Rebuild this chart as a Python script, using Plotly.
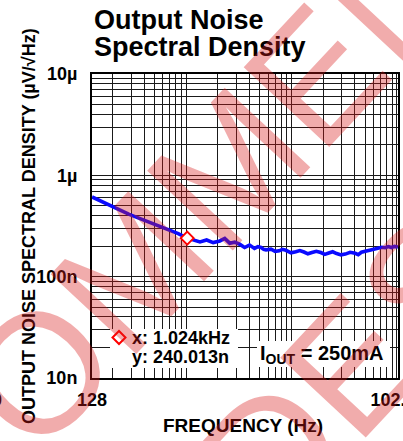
import math
import plotly.graph_objects as go

# ---------------- data ----------------
freq_hz = [128, 155, 183, 214, 246, 285, 332, 412, 508, 649, 842, 1024, 1171, 1354,
           1565, 1806, 2088, 2326, 2592, 2889, 3218, 3587, 3996, 4452, 4800, 5146,
           5450, 5735, 6390, 7000, 7647, 8200, 8842, 9900, 10977, 12000, 13133,
           14300, 15620, 17200, 18985, 20700, 22570, 24600, 26830, 29500, 32400,
           36000, 40220, 43000, 46080, 50000, 53630, 59780, 63000, 66590, 72000,
           77440, 83000, 88810, 95000, 102400]
noise_nv = [612, 556, 509, 468, 440, 414, 389, 356, 327, 296, 266, 240, 230, 220,
            230, 217, 225, 238, 214, 219, 209, 194, 205, 190, 198, 194,
            186, 184, 187, 178, 180, 186, 182, 172, 176, 181, 175,
            168, 173, 178, 173, 166, 171, 176, 169, 164, 167,
            174, 170, 165, 174, 178, 180, 184, 190, 190, 195,
            193, 198, 194, 199, 196]

cursor_freq = [1024]
cursor_noise_nv = [240.013]
cursor_text_x = "x: 1.024kHz"
cursor_text_y = "y: 240.013n"
condition_text = "I<sub>OUT</sub> = 250mA"

x_label_vals = [128, 102400]
x_label_text = ["128", "102.4k"]
y_label_vals = [1e-8, 1e-7, 1e-6, 1e-5]
y_label_text = ["10n", "100n", "1µ", "10µ"]

title_lines = ["Output Noise", "Spectral Density"]
x_title = "FREQUENCY (Hz)"
y_title = "OUTPUT NOISE SPECTRAL DENSITY (µV/√Hz)"
watermark_lines = ["RECOMMENDED", "DESIGNS"]

# ---------------- geometry helpers ----------------
W, H = 403, 441
ML, MR, MT, MB = 92, 5, 74, 63
PW, PH = W - ML - MR, H - MT - MB


def px(x):
    return (x - ML) / PW


def py(y):
    return (H - MB - y) / PH


FONT = "Liberation Sans, Arial, Helvetica, sans-serif"

# grid positions (1..9 x decade) + labelled ends
x_lo, x_hi = x_label_vals[0], x_label_vals[-1]
grid_x = [m * 10 ** e for e in range(2, 6) for m in range(1, 10)
          if x_lo < m * 10 ** e < x_hi]
x_tickvals = [x_lo] + grid_x + [x_hi]
x_ticktext = [x_label_text[0]] + [""] * len(grid_x) + [x_label_text[-1]]

grid_y = [m * 10 ** e for e in range(-8, -5) for m in range(1, 10)] + [1e-5]
y_ticktext = []
for v in grid_y:
    t = ""
    for lv, lt in zip(y_label_vals, y_label_text):
        if abs(math.log10(v) - math.log10(lv)) < 1e-6:
            t = lt
    y_ticktext.append(t)

fig = go.Figure()
fig.add_trace(go.Scatter(
    x=freq_hz, y=[v * 1e-9 for v in noise_nv], mode="lines",
    line=dict(color="#0a0aff", width=3.6), showlegend=False, hoverinfo="skip"))
fig.add_trace(go.Scatter(
    x=cursor_freq, y=[v * 1e-9 for v in cursor_noise_nv], mode="markers",
    marker=dict(symbol="diamond", size=10, color="white",
                line=dict(color="#ff0000", width=2)),
    name=" ", showlegend=True))

axis_common = dict(
    type="log", showgrid=True, gridcolor="#1a1a1a", gridwidth=1,
    showline=True, mirror=True, linecolor="black", linewidth=2,
    ticks="", zeroline=False, automargin=False, ticklabeloverflow="allow",
    tickfont=dict(family=FONT, size=18, color="black", weight="bold"),
)

eps = 0.0004
fig.update_xaxes(
    **axis_common,
    range=[math.log10(x_lo) - eps, math.log10(x_hi) + eps],
    tickmode="array", tickvals=x_tickvals, ticktext=x_ticktext,
    ticklabelstandoff=4,
)
fig.update_yaxes(
    **axis_common,
    range=[-8 - eps, -5 + eps],
    tickmode="array", tickvals=grid_y, ticktext=y_ticktext,
    ticklabelstandoff=9,
)

# white boxes behind the cursor readout and the condition text
fig.add_shape(type="rect", xref="paper", yref="paper",
              x0=px(110), x1=px(238), y0=py(368), y1=py(329),
              fillcolor="white", line=dict(width=0), layer="above")
fig.add_shape(type="rect", xref="paper", yref="paper",
              x0=px(257), x1=px(390), y0=py(367), y1=py(341),
              fillcolor="white", line=dict(width=0), layer="above")

ann = []
bold = dict(family=FONT, color="black", weight="bold")
ann.append(dict(text=title_lines[0], x=px(93), y=py(19.5), xanchor="left", yanchor="middle",
                font=dict(**bold, size=27)))
ann.append(dict(text=title_lines[1], x=px(93), y=py(47), xanchor="left", yanchor="middle",
                font=dict(**bold, size=27)))
ann.append(dict(text=x_title, x=px(243), y=py(425), xanchor="center", yanchor="middle",
                font=dict(**bold, size=19)))
ann.append(dict(text=y_title, x=px(29), y=py(226), xanchor="center", yanchor="middle",
                textangle=-90, font=dict(**bold, size=18)))
ann.append(dict(text=cursor_text_x, x=px(131), y=py(338), xanchor="left", yanchor="middle",
                font=dict(**bold, size=18)))
ann.append(dict(text=cursor_text_y, x=px(131), y=py(357), xanchor="left", yanchor="middle",
                font=dict(**bold, size=18)))
ann.append(dict(text=condition_text, x=px(259), y=py(354), xanchor="left", yanchor="middle",
                font=dict(**bold, size=20)))
ann.append(dict(text="0", x=px(3), y=py(400), xanchor="right", yanchor="middle",
                font=dict(**bold, size=18)))
wm_font = dict(family=FONT, size=170, color="rgba(215,25,25,0.36)")
ann.append(dict(text=watermark_lines[0], x=px(215), y=py(183), xanchor="center",
                yanchor="middle", textangle=-47, font=wm_font))
ann.append(dict(text=watermark_lines[1], x=px(490), y=py(218), xanchor="center",
                yanchor="middle", textangle=-47, font=wm_font))
for a in ann:
    a.update(xref="paper", yref="paper", showarrow=False, borderpad=0)

fig.update_layout(
    width=W, height=H,
    margin=dict(l=ML, r=MR, t=MT, b=MB, autoexpand=False),
    paper_bgcolor="white", plot_bgcolor="white",
    annotations=ann,
    showlegend=True,
    legend=dict(x=px(99), y=py(323), xanchor="left", yanchor="top",
                bgcolor="rgba(0,0,0,0)", borderwidth=0,
                font=dict(family=FONT, size=12), itemwidth=30),
)

fig.write_html(
    "out.html",
    config={"displayModeBar": False},
    post_script="document.body.style.margin='0px';document.body.style.padding='0px';",
)
